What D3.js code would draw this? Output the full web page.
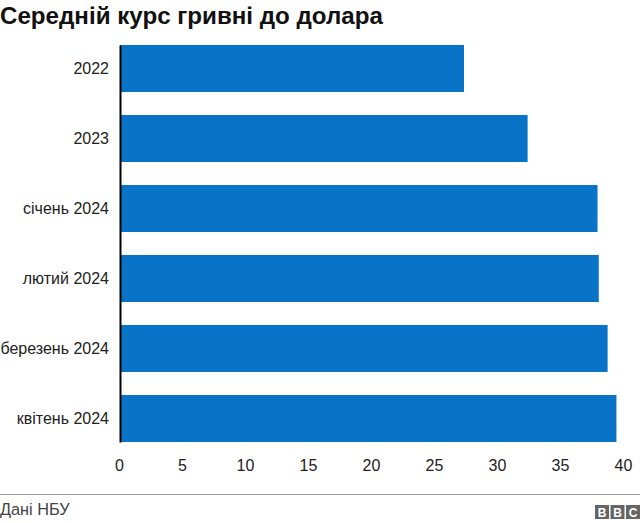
<!DOCTYPE html>
<html>
<head>
<meta charset="utf-8">
<script src="https://cdn.jsdelivr.net/npm/d3@7"></script>
<style>
  html, body { margin: 0; padding: 0; background: #fff; }
  text { font-family: "Liberation Sans", Arial, sans-serif; fill: #222; }
</style>
</head>
<body>
<svg></svg>
<script>
let categories = ["2022", "2023", "січень 2024", "лютий 2024", "березень 2024", "квітень 2024"];
let values = [27.3, 32.35, 37.9, 38.0, 38.7, 39.4];
let xTicks = [0, 5, 10, 15, 20, 25, 30, 35, 40];

let svgWidth = 640, svgHeight = 523;

let svg = d3.select("svg")
    .attr("width", svgWidth)
    .attr("height", svgHeight)
    .style("display", "block");

svg.append("text")
    .attr("x", 0)
    .attr("y", 24)
    .attr("font-size", 24.15)
    .attr("font-weight", "bold")
    .style("fill", "#111")
    .text("Середній курс гривні до долара");

let x = d3.scaleLinear().domain([0, 40]).range([120, 624]);
let y = d3.scaleBand().domain(categories).range([45, 442]).paddingInner(23 / 70).paddingOuter(0);

svg.selectAll("rect.bar")
    .data(values)
    .enter()
    .append("rect")
    .attr("class", "bar")
    .attr("x", x(0))
    .attr("y", (d, i) => y(categories[i]))
    .attr("width", d => x(d) - x(0))
    .attr("height", y.bandwidth())
    .attr("fill", "#0873c7");

// category labels
let yAxis = svg.append("g")
    .attr("transform", `translate(${x(0)},0)`)
    .call(d3.axisLeft(y).tickSize(0).tickPadding(11));
yAxis.selectAll("text").attr("font-size", 16).style("font-family", null);
yAxis.select(".domain").attr("stroke", "#000").attr("stroke-width", 2);

// value labels, no axis line
let xAxis = svg.append("g")
    .attr("transform", "translate(-1,452)")
    .call(d3.axisBottom(x).tickValues(xTicks).tickSize(0).tickPadding(8));
xAxis.select(".domain").remove();
xAxis.selectAll("text").attr("font-size", 16).style("font-family", null);

// footer
svg.append("line")
    .attr("x1", 0).attr("x2", 640)
    .attr("y1", 494.5).attr("y2", 494.5)
    .attr("stroke", "#999");

svg.append("text")
    .attr("x", 0)
    .attr("y", 515)
    .attr("font-size", 16.3)
    .style("fill", "#444")
    .text("Дані НБУ");

let logo = svg.append("g").attr("transform", "translate(595,505)");
["B", "B", "C"].forEach((letter, i) => {
  logo.append("rect")
    .attr("x", i * 15.5)
    .attr("width", 14)
    .attr("height", 14)
    .attr("fill", "#666");
  logo.append("text")
    .attr("x", i * 15.5 + 7)
    .attr("y", 11.5)
    .attr("text-anchor", "middle")
    .attr("font-size", 12)
    .attr("font-weight", "bold")
    .style("fill", "#fff")
    .text(letter);
});
</script>
</body>
</html>
